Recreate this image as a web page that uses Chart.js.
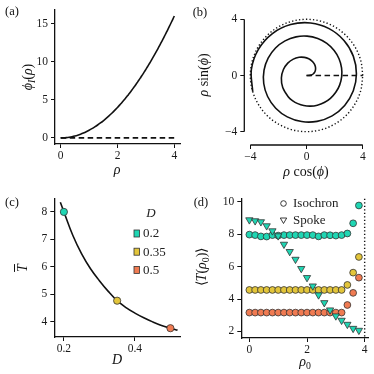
<!DOCTYPE html>
<html>
<head>
<meta charset="utf-8">
<script src="https://cdn.jsdelivr.net/npm/chart.js@4.4.1/dist/chart.umd.min.js"></script>
<style>
  body { margin: 0; background: #fff; }
  #fig { position: relative; width: 374px; height: 374px; font-family: 'Liberation Serif', serif; color: #111; }
  canvas { position: absolute; }
  .t { position: absolute; white-space: nowrap; font-size: 14px; line-height: 1; transform: translate(-50%, -50%); }
  .r { transform: translate(-50%, -50%) rotate(-90deg); }
  .p { font-size: 12.5px; }
  .t sub { font-size: 70%; vertical-align: -0.3em; line-height: 0; }
  .bar { text-decoration: overline; }
</style>
</head>
<body>
<div id="fig">
  <canvas id="pa" width="187" height="187" style="left:0;top:0"></canvas>
  <canvas id="pb" width="187" height="187" style="left:187px;top:0"></canvas>
  <canvas id="pc" width="187" height="187" style="left:0;top:187px"></canvas>
  <canvas id="pd" width="187" height="187" style="left:187px;top:187px"></canvas>

  <div class="t p" style="left:12px;top:11px">(a)</div>
  <div class="t p" style="left:200px;top:12px">(b)</div>
  <div class="t p" style="left:12px;top:202px">(c)</div>
  <div class="t p" style="left:201px;top:202px">(d)</div>

  <div class="t" style="left:117px;top:170px"><i>ρ</i></div>
  <div class="t r" style="left:28px;top:77px"><i>ϕ</i><sub><i>I</i></sub>(<i>ρ</i>)</div>
  <div class="t" style="left:306px;top:172px"><i>ρ</i> cos(<i>ϕ</i>)</div>
  <div class="t r" style="left:204px;top:75px"><i>ρ</i> sin(<i>ϕ</i>)</div>
  <div class="t" style="left:117px;top:360px"><i>D</i></div>
  <div class="t r" style="left:23px;top:268px"><i class="bar">T</i></div>
  <div class="t" style="left:305px;top:362px"><i>ρ</i><sub>0</sub></div>
  <div class="t r" style="left:202px;top:267px">⟨<i>T</i>(<i>ρ</i><sub>0</sub>)⟩</div>
</div>
<script>
// (a),(b): isochron phase along the radius
const rho = [0, 0.1, 0.2, 0.3, 0.4, 0.5, 0.6, 0.7, 0.8, 0.9, 1.0, 1.1, 1.2, 1.3, 1.4, 1.5, 1.6, 1.7, 1.8, 1.9, 2.0,
  2.05, 2.1, 2.15, 2.2, 2.25, 2.3, 2.35, 2.4, 2.45, 2.5, 2.55, 2.6, 2.65, 2.7, 2.75, 2.8, 2.85, 2.9, 2.95, 3.0,
  3.05, 3.1, 3.15, 3.2, 3.25, 3.3, 3.35, 3.4, 3.45, 3.5, 3.55, 3.6, 3.65, 3.7, 3.75, 3.8, 3.85, 3.9, 3.95, 4.0];
const phiI = [0, 0.01, 0.04, 0.09, 0.16, 0.25, 0.36, 0.49, 0.64, 0.81, 1.0, 1.21, 1.44, 1.69, 1.96, 2.25, 2.56, 2.89, 3.24, 3.61, 4.0,
  4.20, 4.41, 4.62, 4.84, 5.06, 5.29, 5.52, 5.76, 6.00, 6.25, 6.50, 6.76, 7.02, 7.29, 7.56, 7.84, 8.12, 8.41, 8.70, 9.0,
  9.30, 9.61, 9.92, 10.24, 10.56, 10.89, 11.22, 11.56, 11.90, 12.25, 12.60, 12.96, 13.32, 13.69, 14.06, 14.44, 14.82, 15.21, 15.60, 16.0];
const spokeRho = [0, 4];
const spokePhi = [0, 0];
const rhoMax = 4;
const circleDeg = [0, 15, 30, 45, 60, 75, 90, 105, 120, 135, 150, 165, 180, 195, 210, 225, 240, 255, 270, 285, 300, 315, 330, 345, 360];

// (c): mean period against noise
const noiseD = [0.2, 0.35, 0.5];
const meanT = [8.0, 4.77, 3.77];
const noiseLabels = ['0.2', '0.35', '0.5'];
const noiseColors = ['#1fd6b3', '#e3c53a', '#f07b52'];
const curveD = [0.19, 0.2, 0.225, 0.25, 0.275, 0.3, 0.325, 0.35, 0.375, 0.4, 0.425, 0.45, 0.475, 0.5, 0.52];
const curveT = [8.35, 8.0, 7.15, 6.47, 5.93, 5.5, 5.11, 4.77, 4.52, 4.32, 4.15, 4.0, 3.87, 3.77, 3.7];

// (d): mean return time against starting radius
const rho0 = [0, 0.2, 0.4, 0.6, 0.8, 1.0, 1.2, 1.4, 1.6, 1.8, 2.0, 2.2, 2.4, 2.6, 2.8, 3.0, 3.2, 3.4, 3.6, 3.8];
const isoT1 = [7.98, 7.95, 7.87, 7.86, 7.95, 7.92, 7.95, 7.95, 7.95, 7.95, 7.95, 7.95, 7.87, 7.95, 7.94, 7.92, 7.95, 8.05, 8.68, 9.78];
const isoT2 = [4.56, 4.56, 4.56, 4.56, 4.56, 4.56, 4.56, 4.56, 4.56, 4.56, 4.56, 4.56, 4.56, 4.56, 4.56, 4.56, 4.56, 4.87, 5.63, 6.6];
const isoT3 = [3.16, 3.16, 3.16, 3.16, 3.16, 3.16, 3.16, 3.16, 3.16, 3.16, 3.16, 3.16, 3.16, 3.16, 3.16, 3.16, 3.16, 3.63, 4.38, 5.32];
const spokeT1 = [8.89, 8.83, 8.77, 8.52, 8.21, 7.9, 7.38, 6.93, 6.45, 5.88, 5.32, 4.8, 4.25, 3.77, 3.32, 2.95, 2.68, 2.43, 2.18, 2.06];

// ticks
const ticksRho = [0, 2, 4];
const ticksPhi = [0, 5, 10, 15];
const ticksXY = [-4, 0, 4];
const ticksD = [0.2, 0.4];
const ticksT = [4, 5, 6, 7, 8];
const ticksT0 = [2, 4, 6, 8, 10];

const black = '#111';
const edge = '#333';
Chart.defaults.font.family = 'Liberation Serif';

const fmt = v => (v < 0 ? '\u2212' + (-v) : String(v));
const polar = (r, a) => ({x: r * Math.cos(a), y: r * Math.sin(a)});
const pts = (xs, ys) => xs.map((x, i) => ({x: x, y: ys[i]}));

function axis(pos, min, max, vals, size, border) {
  return {
    type: 'linear', position: pos, min: min, max: max,
    afterBuildTicks: s => { s.ticks = vals.map(v => ({value: v})); },
    afterFit: s => { if (pos === 'left') s.width = size; else s.height = size; },
    grid: {display: true, drawOnChartArea: false, drawTicks: true, tickLength: 4, tickWidth: 1, color: black, tickColor: black},
    border: {display: border !== false, color: black, width: 1.3},
    ticks: {color: '#1a1a1a', font: {size: 11.5}, padding: pos === 'left' ? 3 : 1.5, maxRotation: 0, autoSkip: false, callback: fmt}
  };
}

function line(data, opts) {
  return Object.assign({data: data, showLine: true, borderColor: black, borderWidth: 1.6,
    pointRadius: 0, tension: 0.35, fill: false}, opts || {});
}

function make(id, pad, datasets, xs, ys, plugins) {
  return new Chart(document.getElementById(id), {
    type: 'scatter',
    data: {datasets: datasets},
    options: {
      responsive: false, animation: false, devicePixelRatio: 1,
      layout: {padding: pad},
      plugins: {legend: {display: false}, tooltip: {enabled: false}},
      scales: {x: xs, y: ys}
    },
    plugins: plugins || []
  });
}

// (a)
make('pa', {left: 0, top: 7, right: 7, bottom: 0}, [
  line(pts(rho, phiI)),
  line(pts(spokeRho, spokePhi), {borderDash: [5.5, 3.5], tension: 0})
], axis('bottom', -0.2, 4.2, ticksRho, 43), axis('left', -0.8, 16.8, ticksPhi, 55));

// (b)
const trimmedSpines = {
  id: 'trimmedSpines',
  afterDraw(chart) {
    const {ctx, chartArea, scales} = chart;
    const lo = ticksXY[0], hi = ticksXY[ticksXY.length - 1];
    ctx.save();
    ctx.strokeStyle = black;
    ctx.lineWidth = 1.3;
    ctx.beginPath();
    ctx.moveTo(chartArea.left, scales.y.getPixelForValue(lo));
    ctx.lineTo(chartArea.left, scales.y.getPixelForValue(hi));
    ctx.moveTo(scales.x.getPixelForValue(lo), chartArea.bottom);
    ctx.lineTo(scales.x.getPixelForValue(hi), chartArea.bottom);
    ctx.stroke();
    ctx.restore();
  }
};
make('pb', {left: 0, top: 13.7, right: 5.6, bottom: 0}, [
  line(rho.map((r, i) => polar(r, phiI[i]))),
  line(spokeRho.map((r, i) => polar(r, spokePhi[i])), {borderDash: [5.5, 3.5], tension: 0}),
  line(circleDeg.map(d => polar(rhoMax, d * Math.PI / 180)), {borderDash: [1.3, 2.2], borderWidth: 1.4, tension: 0.34})
], axis('bottom', -4.43, 4.4, ticksXY, 42, false), axis('left', -4.95, 4.4, ticksXY, 57.3, false), [trimmedSpines]);

// (c)
const legendC = {
  id: 'legendC',
  afterDraw(chart) {
    const ctx = chart.ctx;
    ctx.save();
    ctx.fillStyle = '#222';
    ctx.textBaseline = 'middle';
    ctx.textAlign = 'center';
    ctx.font = 'italic 13px "Liberation Serif"';
    ctx.fillText('D', 151, 27);
    ctx.textAlign = 'left';
    ctx.font = '13px "Liberation Serif"';
    noiseLabels.forEach((lab, i) => {
      const y = 46.5 + i * 18.2;
      ctx.fillStyle = noiseColors[i];
      ctx.fillRect(134, y - 3.5, 5.5, 7);
      ctx.strokeStyle = edge;
      ctx.lineWidth = 0.8;
      ctx.strokeRect(134, y - 3.5, 5.5, 7);
      ctx.fillStyle = '#222';
      ctx.fillText(lab, 143, y + 0.5);
    });
    ctx.restore();
  }
};
make('pc', {left: 0, top: 11.7, right: 7, bottom: 0}, [
  {data: pts(noiseD, meanT), pointRadius: 3.6, pointBackgroundColor: noiseColors, pointBorderColor: edge, pointBorderWidth: 0.8, showLine: false},
  line(pts(curveD, curveT), {tension: 0.4})
], axis('bottom', 0.173, 0.527, ticksD, 37), axis('left', 3.45, 8.48, ticksT, 54.3), [legendC]);

// (d)
const extrasD = {
  id: 'extrasD',
  beforeDatasetsDraw(chart) {
    const {ctx, chartArea, scales} = chart;
    const x = scales.x.getPixelForValue(rhoMax);
    ctx.save();
    ctx.strokeStyle = black;
    ctx.lineWidth = 1.4;
    ctx.setLineDash([1.3, 2.2]);
    ctx.beginPath();
    ctx.moveTo(x, chartArea.top);
    ctx.lineTo(x, chartArea.bottom);
    ctx.stroke();
    ctx.restore();
  },
  afterDraw(chart) {
    const ctx = chart.ctx;
    ctx.save();
    ctx.strokeStyle = '#222';
    ctx.fillStyle = '#fff';
    ctx.lineWidth = 0.9;
    ctx.beginPath();
    ctx.arc(96.5, 16.5, 2.8, 0, Math.PI * 2);
    ctx.fill();
    ctx.stroke();
    ctx.beginPath();
    ctx.moveTo(93.3, 31);
    ctx.lineTo(99.7, 31);
    ctx.lineTo(96.5, 36.5);
    ctx.closePath();
    ctx.fill();
    ctx.stroke();
    ctx.fillStyle = '#222';
    ctx.textBaseline = 'middle';
    ctx.font = '13px "Liberation Serif"';
    ctx.fillText('Isochron', 106, 17);
    ctx.fillText('Spoke', 106, 34);
    ctx.restore();
  }
};
const dot = c => ({pointRadius: 3.4, pointBackgroundColor: c, pointBorderColor: edge, pointBorderWidth: 0.8, showLine: false});
make('pd', {left: 0, top: 11.7, right: 5.3, bottom: 0}, [
  Object.assign({data: pts(rho0, spokeT1), pointStyle: 'triangle', rotation: 180}, dot(noiseColors[0]), {pointRadius: 4.2}),
  Object.assign({data: pts(rho0, isoT1)}, dot(noiseColors[0])),
  Object.assign({data: pts(rho0, isoT2)}, dot(noiseColors[1])),
  Object.assign({data: pts(rho0, isoT3)}, dot(noiseColors[2]))
], axis('bottom', -0.28, 4.14, ticksRho, 36), axis('left', 1.59, 10.2, ticksT0, 54.3), [extrasD]);
</script>
</body>
</html>
